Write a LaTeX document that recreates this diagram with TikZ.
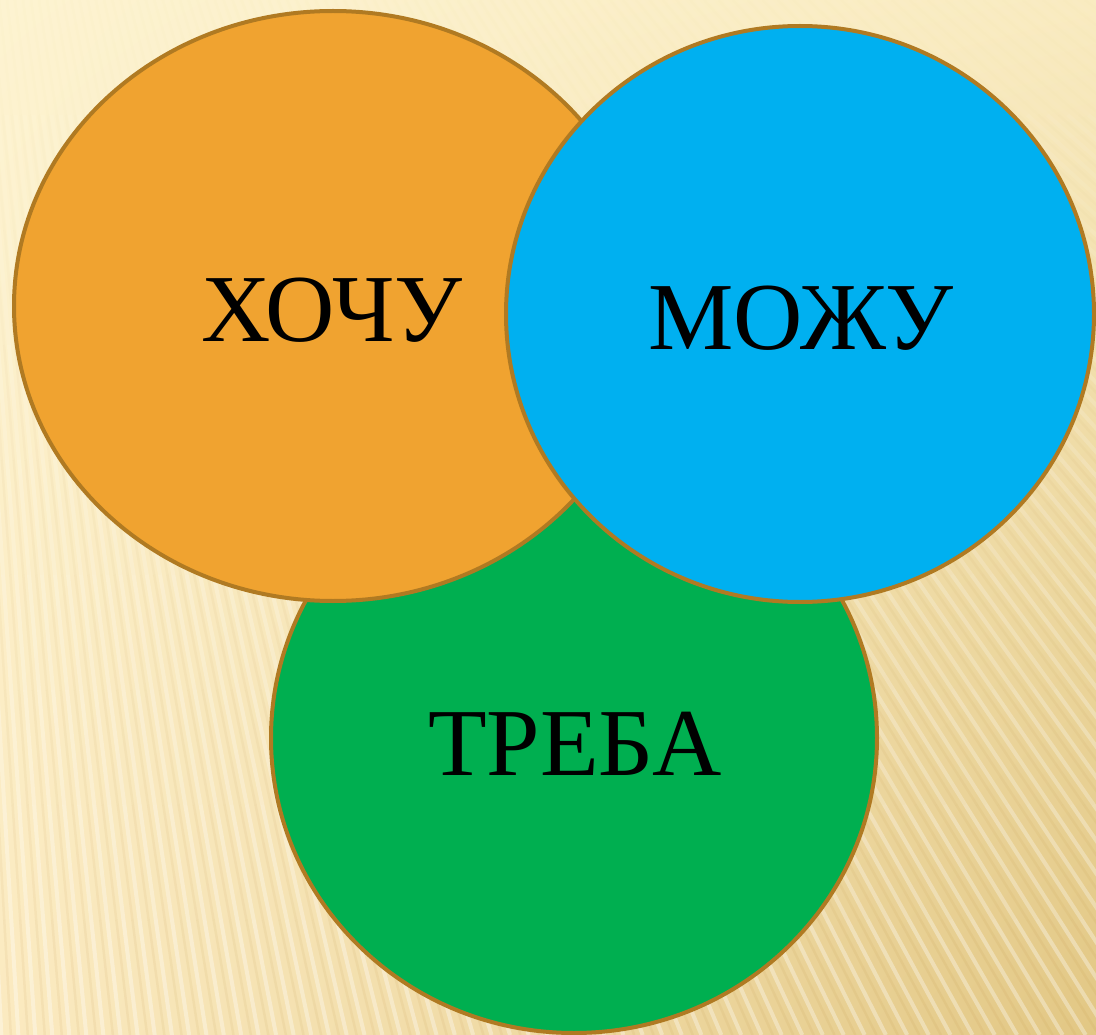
\documentclass[tikz,border=0pt]{standalone}
\usepackage{fontspec}
\setmainfont{Liberation Serif}
\usetikzlibrary{shapes.geometric,shadings}
\definecolor{bgTL}{HTML}{FDF3D0}
\definecolor{bgTR}{HTML}{F9EBC0}
\definecolor{bgBL}{HTML}{FBEAC0}
\definecolor{bgBR}{HTML}{E2C784}
\definecolor{rim}{HTML}{B07A22}
\definecolor{orangeF}{HTML}{F0A330}
\definecolor{blueF}{HTML}{00B0F0}
\definecolor{greenF}{HTML}{00AF50}
\tikzset{
  blob/.style={ellipse, draw=rim, line width=4pt, inner sep=0pt},
  word/.style={font=\fontsize{96}{96}\selectfont, text=black, inner sep=0pt}
}
\begin{document}
\begin{tikzpicture}[x=1pt,y=-1pt]
\useasboundingbox (0,0) rectangle (1096,1035);
\shade[upper left=bgTL, upper right=bgTR, lower left=bgBL, lower right=bgBR] (0,0) rectangle (1096,1035);
\begin{scope}
\clip (0,0) rectangle (1096,1035);
\foreach \a in {34,34.5,...,90.5} {
  \pgfmathsetmacro{\ct}{cot(\a)}
  \pgfmathsetmacro{\cd}{cot(\a+0.22)}
  \foreach \yy in {0,115,...,920} {
    \pgfmathsetmacro{\yb}{\yy+115}
    \pgfmathsetmacro{\op}{0.04+0.30*\yy/920}
    \draw[white, opacity=\op, line width=4pt]
      ({-100+(\yy+900)*\ct},\yy) -- ({-100+(\yb+900)*\ct},\yb);
    \draw[rim, opacity=\op*0.22, line width=2.5pt]
      ({-100+(\yy+900)*\cd},\yy) -- ({-100+(\yb+900)*\cd},\yb);
  }
}
\end{scope}
\node[blob, fill=greenF, minimum width=606pt, minimum height=590pt] (g) at (574,738) {};
\node[blob, fill=orangeF, minimum width=638pt, minimum height=590pt] (o) at (333,306) {};
\node[blob, fill=blueF, minimum width=588pt, minimum height=576pt] (b) at (800,314) {};
\node[word] (to) at (332,310) {ХОЧУ};
\node[word] (tb) at (801,318) {МОЖУ};
\node[word] (tg) at (575,744) {ТРЕБА};
\end{tikzpicture}
\end{document}
